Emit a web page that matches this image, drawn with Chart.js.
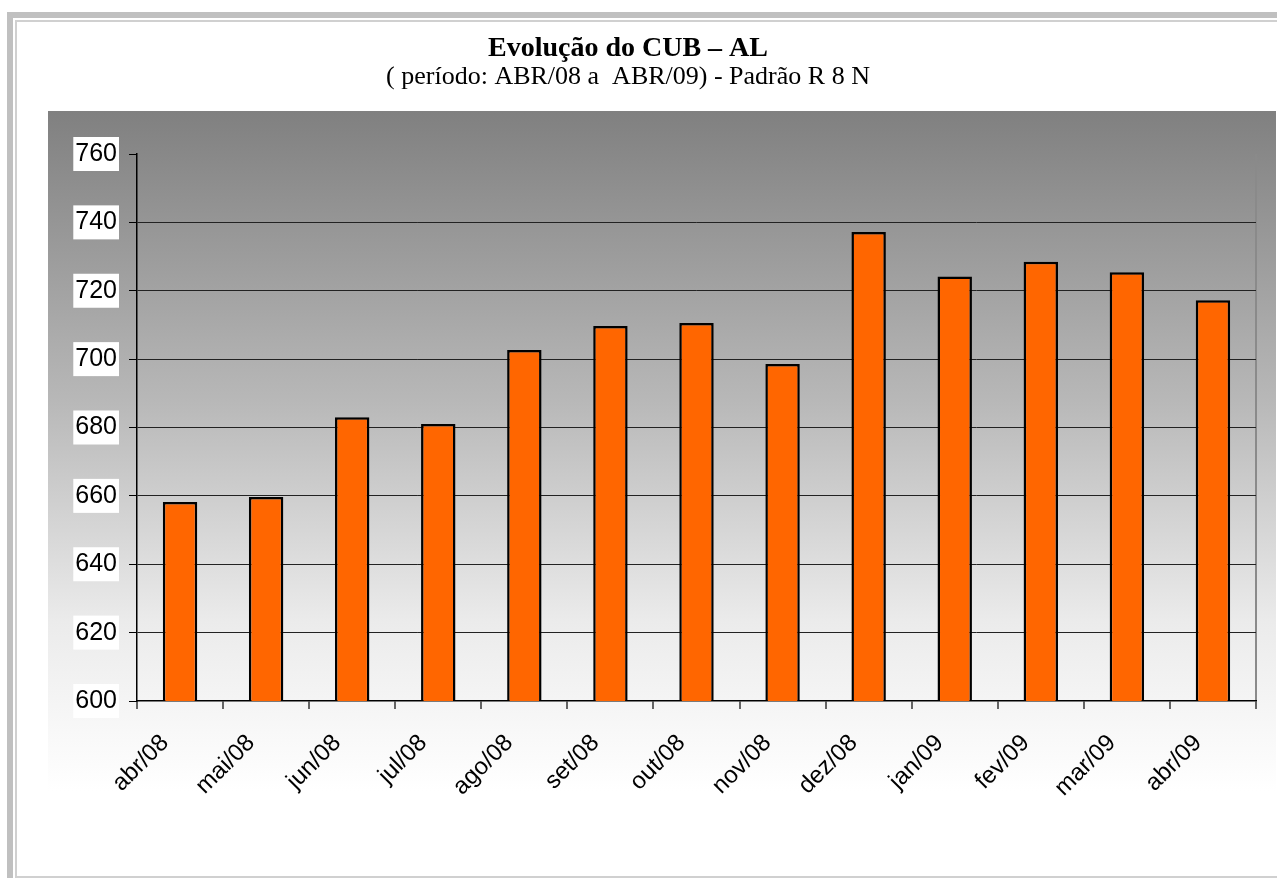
<!DOCTYPE html>
<html>
<head>
<meta charset="utf-8">
<script src="https://cdn.jsdelivr.net/npm/chart.js@4/dist/chart.umd.min.js"></script>
<style>
  html, body { margin: 0; padding: 0; background: #fff; overflow: hidden; }
  body { width: 1277px; height: 878px; position: relative; }
  #frameOuter { position: absolute; left: 7px; top: 12px; width: 1400px; height: 1000px;
    border-left: 6px solid #c0c0c0; border-top: 6px solid #c0c0c0; box-sizing: border-box; }
  #frameInner { position: absolute; left: 15px; top: 20px; width: 1400px; height: 858px;
    border-left: 2px solid #d0d0d0; border-top: 2px solid #d0d0d0; border-bottom: 2px solid #d0d0d0; box-sizing: border-box; }
  #bg { position: absolute; left: 48px; top: 111px; width: 1228px; height: 680px;
    background: linear-gradient(to bottom, #808080 0%, #b7b7b7 42%, #ebebeb 75%, #ffffff 100%); }
  #wrap { position: absolute; left: 0; top: 0; width: 1277px; height: 878px; }
</style>
</head>
<body>
<div id="frameOuter"></div>
<div id="frameInner"></div>
<div id="bg"></div>
<div id="wrap"><canvas id="c" width="1277" height="878"></canvas></div>
<script>
const categories = ["abr/08","mai/08","jun/08","jul/08","ago/08","set/08","out/08","nov/08","dez/08","jan/09","fev/09","mar/09","abr/09"];
const cubValues = [658.2, 659.7, 683.0, 681.0, 702.7, 709.7, 710.6, 698.6, 737.2, 724.2, 728.5, 725.4, 717.2];
const yTicks = [600, 620, 640, 660, 680, 700, 720, 740, 760];
const titleText = "Evolução do CUB – AL";
const subtitleText = "( período: ABR/08 a  ABR/09) - Padrão R 8 N";

new Chart(document.getElementById('c'), {
  type: 'bar',
  data: {
    labels: categories,
    datasets: [{
      data: cubValues,
      backgroundColor: '#FF6600',
      borderColor: '#000000',
      borderWidth: 2.5,
      borderSkipped: false,
      barPercentage: 0.4,
      categoryPercentage: 1.0
    }]
  },
  options: {
    responsive: false,
    animation: false,
    layout: { padding: { left: 0, right: 21, top: 0, bottom: 0 } },
    plugins: {
      legend: { display: false },
      tooltip: { enabled: false },
      title: {
        display: true, text: titleText, color: '#000',
        font: { family: 'Liberation Serif', size: 28, weight: 'bold', lineHeight: 1.0 },
        padding: { top: 35, bottom: 0 }
      },
      subtitle: {
        display: true, text: subtitleText, color: '#000',
        font: { family: 'Liberation Serif', size: 26, lineHeight: 1.1 },
        padding: { top: 0, bottom: 62.4 }
      }
    },
    scales: {
      x: {
        offset: true,
        afterFit: s => { s.height = 177; },
        border: { display: true, color: '#000', width: 1.5 },
        grid: {
          offset: true,
          drawOnChartArea: true,
          color: ctx => (ctx.index === undefined ? '#8a8a8a' : 'rgba(0,0,0,0)'),
          lineWidth: 2,
          tickColor: '#333',
          tickLength: 8,
          tickWidth: 1.5
        },
        ticks: {
          color: '#000',
          font: { family: 'Liberation Sans', size: 24 },
          maxRotation: 45, minRotation: 45,
          autoSkip: false,
          padding: 20,
          labelOffset: -15
        }
      },
      y: {
        min: 600, max: 760,
        afterFit: s => { s.width = 137; },
        afterBuildTicks: s => { s.ticks = yTicks.map(v => ({ value: v })); },
        border: { display: true, color: '#000', width: 1.5 },
        grid: {
          color: ctx => (ctx.tick && (ctx.tick.value === 760 || ctx.tick.value === 600) ? 'rgba(0,0,0,0)' : '#222'),
          lineWidth: 1,
          tickColor: '#000',
          tickLength: 8,
          tickWidth: 1
        },
        ticks: {
          color: '#000',
          font: { family: 'Liberation Sans', size: 25 },
          padding: 12,
          showLabelBackdrop: true,
          backdropColor: '#ffffff',
          backdropPadding: { left: 2, right: 2, top: 2, bottom: 2 }
        }
      }
    }
  }
});
</script>
</body>
</html>
